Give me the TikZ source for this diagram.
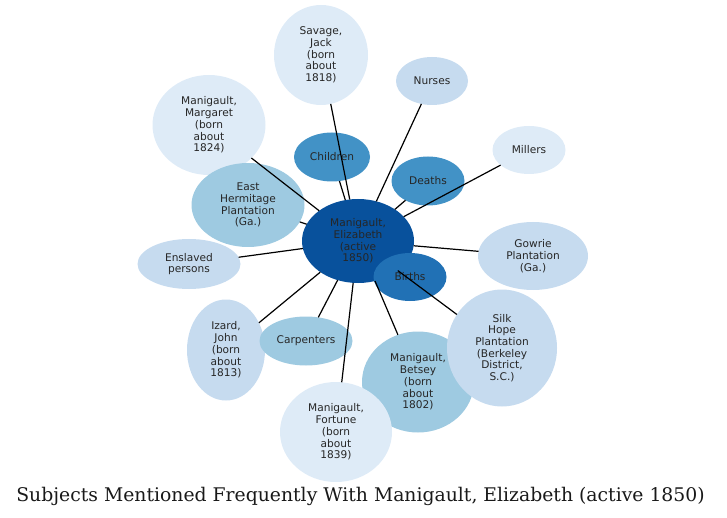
\documentclass[tikz,border=0pt]{standalone}
\usepackage{fontspec}
\setmainfont{DejaVu Sans}
\newfontfamily\titlefont{DejaVu Serif}
\usetikzlibrary{shapes.geometric}
\definecolor{bA}{HTML}{08519C}
\definecolor{bB}{HTML}{2171B5}
\definecolor{bC}{HTML}{4292C6}
\definecolor{bD}{HTML}{9ECAE1}
\definecolor{bE}{HTML}{C6DBEF}
\definecolor{bF}{HTML}{DEEBF7}
\tikzset{
  x=1pt, y=-1pt,
  bub/.style={ellipse, inner sep=0pt, outer sep=0pt, align=center,
    font=\fontsize{10.6}{11.7}\selectfont, text=black!85},
  link/.style={draw=black, line width=1.2pt}
}
\begin{document}
\begin{tikzpicture}
\useasboundingbox (0,0) rectangle (727,518);
% nodes
\node[bub, fill=bA, minimum width=112, minimum height=84] (c) at (358,241) {Manigault,\\Elizabeth\\(active\\1850)};
\node[bub, fill=bB, minimum width=73, minimum height=48] (births) at (410,277) {Births};
\node[bub, fill=bF, minimum width=94, minimum height=100] (savage) at (321,55) {Savage,\\Jack\\(born\\about\\1818)};
\node[bub, fill=bE, minimum width=72, minimum height=48] (nurses) at (432,81) {Nurses};
\node[bub, fill=bF, minimum width=113, minimum height=100] (margaret) at (209,125) {Manigault,\\Margaret\\(born\\about\\1824)};
\node[bub, fill=bC, minimum width=76, minimum height=49] (children) at (332,157) {Children};
\node[bub, fill=bC, minimum width=73, minimum height=49] (deaths) at (428,181) {Deaths};
\node[bub, fill=bF, minimum width=73, minimum height=48] (millers) at (529,150) {Millers};
\node[bub, fill=bD, minimum width=113, minimum height=84] (east) at (248,205) {East\\Hermitage\\Plantation\\(Ga.)};
\node[bub, fill=bE, minimum width=103, minimum height=50] (enslaved) at (189,264) {Enslaved\\persons};
\node[bub, fill=bE, minimum width=110, minimum height=68] (gowrie) at (533,256) {Gowrie\\Plantation\\(Ga.)};
\node[bub, fill=bE, minimum width=78, minimum height=101] (izard) at (226,350) {Izard,\\John\\(born\\about\\1813)};
\node[bub, fill=bD, minimum width=93, minimum height=49] (carp) at (306,341) {Carpenters};
\node[bub, fill=bD, minimum width=112, minimum height=101] (betsey) at (418,382) {Manigault,\\Betsey\\(born\\about\\1802)};
\node[bub, fill=bE, minimum width=110, minimum height=117] (silk) at (502,348) {Silk\\Hope\\Plantation\\(Berkeley\\District,\\S.C.)};
\node[bub, fill=bF, minimum width=112, minimum height=100] (fortune) at (336,432) {Manigault,\\Fortune\\(born\\about\\1839)};
% edges
\foreach \t in {savage,nurses,margaret,children,deaths,millers,east,enslaved,gowrie,izard,carp,betsey,silk,fortune}
  \draw[link] (c) -- (\t);
% title
\node[font=\titlefont\fontsize{18.8}{20}\selectfont, text=black!90] (title) at (360.5,496) {Subjects Mentioned Frequently With Manigault, Elizabeth (active 1850)};
\end{tikzpicture}
\end{document}
